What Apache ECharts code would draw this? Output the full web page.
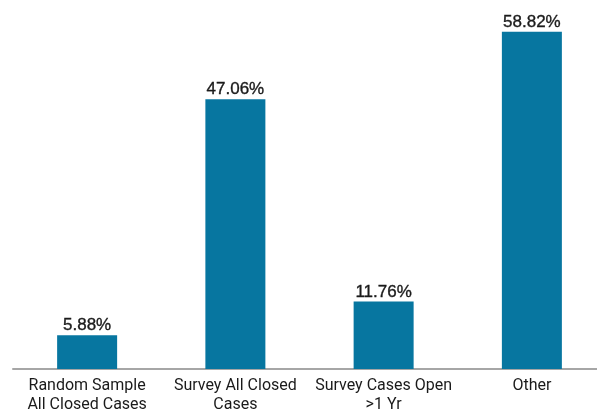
<!DOCTYPE html>
<html>
<head>
<meta charset="utf-8">
<script src="https://cdn.jsdelivr.net/npm/echarts@6/dist/echarts.min.js"></script>
<style>
  html, body { margin: 0; padding: 0; background: #fff; overflow: hidden; }
  #chart { width: 620px; height: 414px; }
</style>
</head>
<body>
<div id="chart"></div>
<script>
// Share of cases by group (percent)
const categories = [
  'Random Sample\nAll Closed Cases',
  'Survey All Closed\nCases',
  'Survey Cases Open\n>1 Yr',
  'Other'
];
const values = [5.88, 47.06, 11.76, 58.82];

const chart = echarts.init(document.getElementById('chart'));
chart.setOption({
  animation: false,
  backgroundColor: '#ffffff',
  grid: { left: 13, top: 25, width: 593, height: 349 },
  xAxis: {
    type: 'category',
    data: categories,
    axisLine: { show: true, lineStyle: { color: '#a6a6a6', width: 2 } },
    axisTick: { show: false },
    axisLabel: {
      interval: 0,
      margin: 7,
      color: '#1a1a1a',
      fontSize: 16,
      lineHeight: 19,
      fontFamily: "Roboto, 'Liberation Sans', sans-serif"
    }
  },
  yAxis: {
    type: 'value',
    min: 0,
    max: 60,
    show: false,
    splitLine: { show: false }
  },
  series: [{
    type: 'bar',
    data: values,
    barWidth: 60,
    itemStyle: { color: '#0776a0' },
    label: {
      show: true,
      position: 'top',
      distance: 1,
      color: '#1a1a1a',
      fontSize: 17,
      fontFamily: "'Liberation Sans', Arial, sans-serif",
      textBorderColor: '#1a1a1a',
      textBorderWidth: 0.35,
      formatter: p => p.value.toFixed(2) + '%'
    }
  }]
});
</script>
</body>
</html>
